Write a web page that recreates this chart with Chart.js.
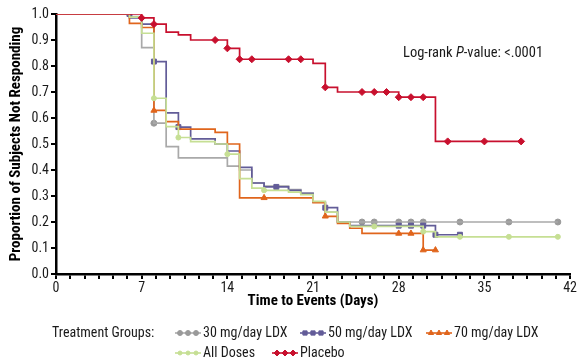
<!DOCTYPE html>
<html>
<head>
<meta charset="utf-8">
<script src="https://cdn.jsdelivr.net/npm/chart.js@4.4.1/dist/chart.umd.min.js"></script>
<style>
	html, body { margin: 0; padding: 0; background: #fff; overflow: hidden; }
	canvas { display: block; }
</style>
</head>
<body>
<canvas id="kmChart" width="578" height="358"></canvas>
<script>
// step points: day of event and proportion after it
const days30 = [0, 6, 7, 8, 9, 10, 14, 15, 16, 17, 19, 20, 21, 22, 23, 41];
const prop30 = [1.0, 0.99, 0.871, 0.58, 0.49, 0.447, 0.415, 0.40, 0.35, 0.338, 0.325, 0.31, 0.276, 0.238, 0.20, 0.20];
const cens30Days = [8, 25, 26, 28, 29, 30, 33, 37, 41];
const cens30Prop = [0.58, 0.20, 0.20, 0.20, 0.20, 0.20, 0.20, 0.20, 0.20];

const days50 = [0, 6, 7, 8, 9, 10, 11, 13, 14, 15, 16, 17, 19, 20, 21, 22, 23, 24, 31, 33];
const prop50 = [1.0, 0.985, 0.961, 0.817, 0.62, 0.565, 0.52, 0.50, 0.473, 0.41, 0.35, 0.335, 0.322, 0.31, 0.276, 0.255, 0.20, 0.186, 0.151, 0.151];
const cens50Days = [6, 8, 10, 18, 22, 28, 29, 30, 31, 33];
const cens50Prop = [1.0, 0.817, 0.565, 0.335, 0.255, 0.186, 0.186, 0.186, 0.151, 0.151];

const days70 = [0, 6, 7, 8, 9, 10, 13, 14, 15, 21, 22, 23, 24, 25, 30, 31];
const prop70 = [1.0, 0.964, 0.948, 0.629, 0.586, 0.557, 0.545, 0.50, 0.293, 0.274, 0.222, 0.195, 0.176, 0.156, 0.092, 0.092];
const cens70Days = [8, 17, 22, 28, 29, 30, 31];
const cens70Prop = [0.629, 0.293, 0.222, 0.156, 0.156, 0.092, 0.092];

const daysAll = [0, 6, 7, 8, 9, 10, 11, 13, 14, 15, 16, 17, 19, 20, 21, 22, 23, 24, 30, 31, 41];
const propAll = [1.0, 0.988, 0.926, 0.676, 0.567, 0.525, 0.509, 0.50, 0.461, 0.367, 0.33, 0.322, 0.315, 0.305, 0.279, 0.238, 0.20, 0.183, 0.163, 0.143, 0.143];
const censAllDays = [8, 10, 14, 17, 26, 30, 33, 37, 41];
const censAllProp = [0.676, 0.525, 0.461, 0.322, 0.183, 0.163, 0.143, 0.143, 0.143];

const daysPbo = [0, 7, 8, 9, 10, 11, 14, 15, 21, 22, 23, 28, 31, 38];
const propPbo = [1.0, 0.985, 0.961, 0.93, 0.92, 0.90, 0.868, 0.826, 0.81, 0.718, 0.70, 0.68, 0.51, 0.51];
const censPboDays = [7, 8, 13, 14, 15, 16, 19, 20, 22, 25, 26, 27, 28, 29, 30, 32, 35, 38];
const censPboProp = [0.985, 0.961, 0.90, 0.868, 0.826, 0.826, 0.826, 0.826, 0.718, 0.70, 0.70, 0.70, 0.68, 0.68, 0.68, 0.51, 0.51, 0.51];

const groupNames = ['30 mg/day LDX', '50 mg/day LDX', '70 mg/day LDX', 'All Doses', 'Placebo'];
const yTicks = [0, 0.1, 0.2, 0.3, 0.4, 0.5, 0.6, 0.7, 0.8, 0.9, 1.0];
const xLabels = [0, 7, 14, 21, 28, 35, 42];

const FONT = '"Roboto Condensed", "DejaVu Sans Condensed", sans-serif';

const groups = [
	{ name: groupNames[0], days: days30, prop: prop30, cd: cens30Days, cp: cens30Prop, line: '#a9a9a9', mark: '#9a9a9a', style: 'circle', r: 3, order: 5 },
	{ name: groupNames[1], days: days50, prop: prop50, cd: cens50Days, cp: cens50Prop, line: '#625c98', mark: '#625c98', style: 'rect', r: 3.5, order: 4 },
	{ name: groupNames[2], days: days70, prop: prop70, cd: cens70Days, cp: cens70Prop, line: '#e0651c', mark: '#e0651c', style: 'triangle', r: 3.5, order: 3 },
	{ name: groupNames[3], days: daysAll, prop: propAll, cd: censAllDays, cp: censAllProp, line: '#c6df94', mark: '#c6df94', style: 'circle', r: 2.5, order: 2 },
	{ name: groupNames[4], days: daysPbo, prop: propPbo, cd: censPboDays, cp: censPboProp, line: '#c8102e', mark: '#c8102e', style: 'rectRot', r: 3.5, order: 1 }
];

function toPoints(xs, ys)
{
	return xs.map(function (x, i) { return { x: x, y: ys[i] }; });
}

const datasets = [];
groups.forEach(function (g)
{
	datasets.push({
		label: g.name,
		data: toPoints(g.days, g.prop),
		borderColor: g.line,
		borderWidth: 1.7,
		stepped: 'before',
		pointRadius: 0,
		fill: false,
		order: g.order
	});
	datasets.push({
		label: g.name + ' censored',
		data: toPoints(g.cd, g.cp),
		showLine: false,
		pointStyle: g.style,
		pointRadius: g.r,
		pointBackgroundColor: g.mark,
		pointBorderColor: g.mark,
		pointBorderWidth: 1,
		order: g.order
	});
});

const extrasPlugin = {
	id: 'extras',
	afterDraw(chart) {
		const ctx = chart.ctx;
		ctx.save();
		ctx.textBaseline = 'middle';
		ctx.fillStyle = '#1a1a1a';

		// log-rank note
		ctx.font = '14.5px ' + FONT;
		let x = 403;
		const y = 53;
		ctx.fillText('Log-rank ', x, y);
		x += ctx.measureText('Log-rank ').width;
		ctx.font = 'italic 14.5px ' + FONT;
		ctx.fillText('P', x, y);
		x += ctx.measureText('P').width;
		ctx.font = '14.5px ' + FONT;
		ctx.fillText('-value: <.0001', x, y);

		// legend
		ctx.font = '14px ' + FONT;
		ctx.fillText('Treatment Groups:', 52, 333);
		const slots = [[175, 333], [300, 333], [426, 333], [175, 353], [272, 353]];
		groups.forEach(function (g, i)
		{
			const sx = slots[i][0], sy = slots[i][1];
			ctx.strokeStyle = g.line;
			ctx.lineWidth = 1.6;
			ctx.beginPath();
			ctx.moveTo(sx, sy);
			ctx.lineTo(sx + 26, sy);
			ctx.stroke();
			ctx.fillStyle = g.mark;
			ctx.strokeStyle = g.mark;
			ctx.lineWidth = 1;
			[sx + 5, sx + 13, sx + 21].forEach(function (px)
			{
				Chart.helpers.drawPoint(ctx, { pointStyle: g.style, radius: g.r - 0.5, borderWidth: 1, rotation: 0 }, px, sy);
			});
			ctx.fillStyle = '#1a1a1a';
			ctx.fillText(g.name, sx + 28, sy);
		});
		ctx.restore();
	}
};

const ctx = document.getElementById('kmChart').getContext('2d');
new Chart(ctx, {
	type: 'line',
	data: { datasets: datasets },
	options: {
		responsive: false,
		animation: false,
		layout: { padding: { left: 0, right: 0, top: 14, bottom: 48 } },
		plugins: {
			legend: { display: false },
			tooltip: { enabled: false }
		},
		scales: {
			x: {
				type: 'linear',
				min: 0,
				max: 42,
				afterBuildTicks: function (scale)
				{
					const t = [];
					for (let i = 0; i <= 36; i++) t.push({ value: i * 7 / 6 });
					scale.ticks = t;
				},
				afterFit: function (scale) { scale.height = 36; },
				ticks: {
					autoSkip: false,
					maxRotation: 0,
					padding: 1,
					color: '#1a1a1a',
					font: { family: FONT, size: 14 },
					callback: function (v)
					{
						const d = Math.round(v);
						if (Math.abs(v - d) < 1e-6 && xLabels.indexOf(d) >= 0) return String(d);
						return '';
					}
				},
				grid: { drawOnChartArea: false, drawTicks: true, tickLength: 5, color: '#000', lineWidth: 2 },
				border: { color: '#000', width: 2.5 },
				title: { display: true, text: 'Time to Events (Days)', color: '#000', padding: { top: 0, bottom: 0 }, font: { family: FONT, size: 15, weight: 'bold' } }
			},
			y: {
				min: 0,
				max: 1,
				afterBuildTicks: function (scale)
				{
					scale.ticks = yTicks.map(function (v) { return { value: v }; });
				},
				afterFit: function (scale) { scale.width = 56; },
				ticks: {
					padding: 2,
					color: '#1a1a1a',
					font: { family: FONT, size: 14 },
					callback: function (v) { return v.toFixed(1); }
				},
				grid: { drawOnChartArea: false, drawTicks: true, tickLength: 5, color: '#000', lineWidth: 2 },
				border: { color: '#000', width: 2.5 },
				title: { display: true, text: 'Proportion of Subjects Not Responding', color: '#000', padding: { top: 7, bottom: 0 }, font: { family: FONT, size: 15, weight: 'bold' } }
			}
		}
	},
	plugins: [extrasPlugin]
});
</script>
</body>
</html>
